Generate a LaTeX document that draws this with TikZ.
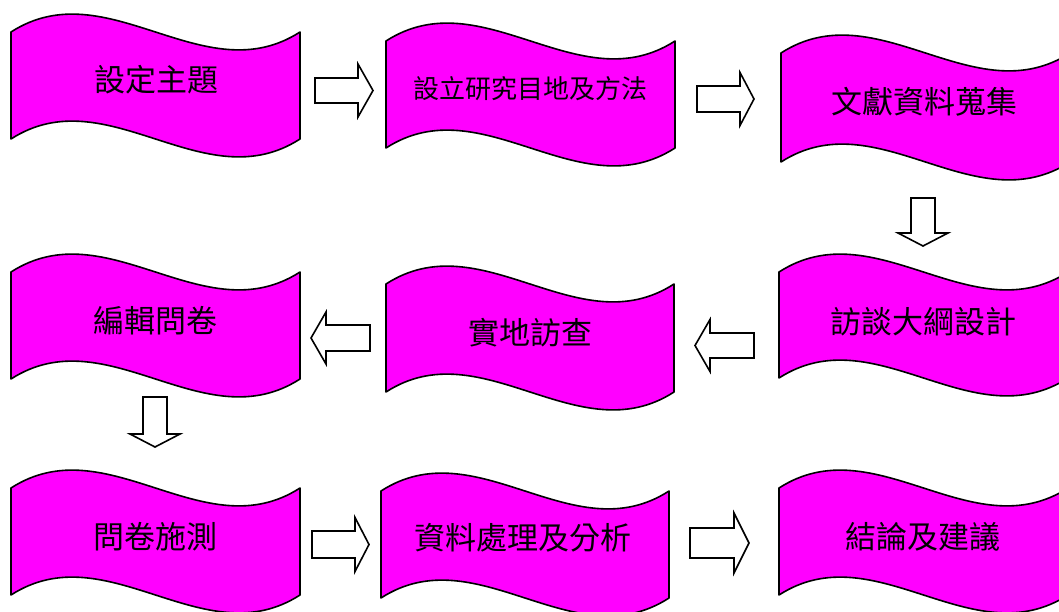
\documentclass[tikz,border=0pt]{standalone}
\usepackage{fontspec}
\newfontfamily\cjk{Noto Sans CJK TC}
\definecolor{wavefill}{RGB}{255,0,255}
\newcommand\wavebox[4]{% #1 x0, #2 y0, #3 width, #4 edge height
  \draw[wave] (#1,#2) .. controls ({#1+#3/3},{#2-62}) and ({#1+2*#3/3},{#2+62}) .. ({#1+#3},#2)
    -- ({#1+#3},{#2+#4}) .. controls ({#1+2*#3/3},{#2+#4+62}) and ({#1+#3/3},{#2+#4-62}) .. (#1,{#2+#4}) -- cycle;}
\newcommand\blockarrow[7]{% #1 x, #2 y, #3 rotation, #4 length, #5 head length, #6 shaft half, #7 head half
  \begin{scope}[shift={(#1,#2)},rotate=#3]
    \draw[blk] (0,-#6) -- ({#4-#5},-#6) -- ({#4-#5},-#7) -- (#4,0) -- ({#4-#5},#7) -- ({#4-#5},#6) -- (0,#6) -- cycle;
  \end{scope}}
\begin{document}
\begin{tikzpicture}[x=1pt,y=-1pt,
  wave/.style={draw=black,fill=wavefill,line width=1.6pt,line join=round},
  blk/.style={draw=black,fill=white,line width=1.6pt,line join=miter},
  lbl/.style={font=\cjk\fontsize{31}{31}\selectfont,inner sep=0pt,text=black},
  lblsmall/.style={font=\cjk\fontsize{26}{26}\selectfont,inner sep=0pt,text=black}]
\useasboundingbox (0,0) rectangle (1059,611);
\clip (0,0) rectangle (1059,611);
% wave boxes
\wavebox{11}{32}{289}{107}
\wavebox{386}{41}{289}{107}
\wavebox{781}{53}{289}{109}
\wavebox{779}{272}{289}{106}
\wavebox{386}{284}{288}{108}
\wavebox{11}{272}{289}{107}
\wavebox{11}{488}{289}{107}
\wavebox{381}{491}{288}{107}
\wavebox{779}{488}{289}{107}
% labels
\node[lbl] (n1) at (156,80) {設定主題};
\node[lblsmall] (n2) at (530,89) {設立研究目地及方法};
\node[lbl] (n3) at (924,102) {文獻資料蒐集};
\node[lbl] (n4) at (923,322) {訪談大綱設計};
\node[lbl] (n5) at (530,333) {實地訪查};
\node[lbl] (n6) at (155,321) {編輯問卷};
\node[lbl] (n7) at (155,537) {問卷施測};
\node[lbl] (n8) at (523,538) {資料處理及分析};
\node[lbl] (n9) at (923,537) {結論及建議};
% block arrows
\blockarrow{315}{90.5}{0}{58}{15}{12.5}{26.5}
\blockarrow{697}{99}{0}{57}{14}{13}{26.5}
\blockarrow{923}{198}{-90}{48}{13}{12}{25}
\blockarrow{754}{345.5}{180}{59}{15}{12.5}{26}
\blockarrow{370}{338}{180}{59}{15}{13}{26}
\blockarrow{155}{397}{-90}{50}{13}{12}{25}
\blockarrow{312}{544.5}{0}{57}{14}{13.5}{27}
\blockarrow{690}{543}{0}{59}{15}{15}{30}
\end{tikzpicture}
\end{document}
